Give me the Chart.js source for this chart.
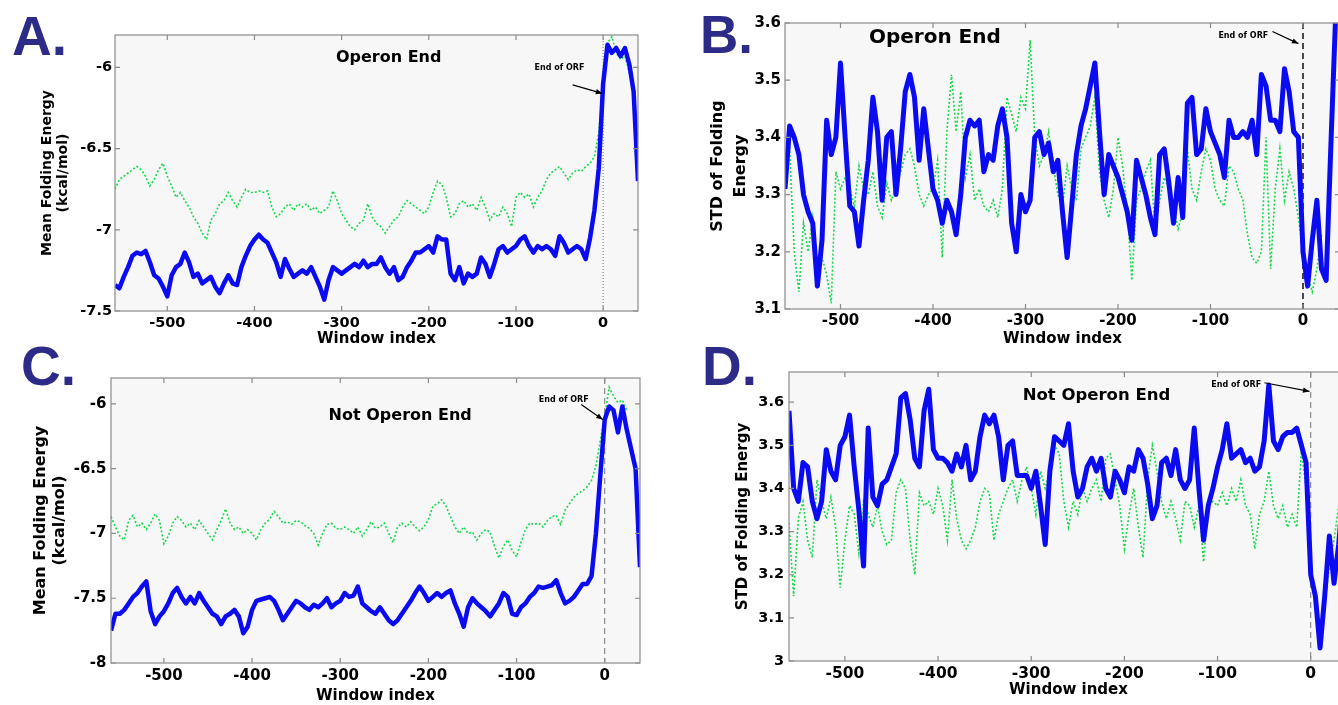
<!DOCTYPE html>
<html>
<head>
<meta charset="utf-8">
<script src="https://cdn.jsdelivr.net/npm/chart.js@4.4.1/dist/chart.umd.min.js"></script>
<style>
  html, body { margin: 0; padding: 0; width: 1338px; height: 705px; overflow: hidden; background: #fff; }
  canvas { position: absolute; }
</style>
</head>
<body>
<canvas id="chartA" width="660" height="350" style="left:0px;top:0px"></canvas>
<canvas id="chartB" width="677" height="350" style="left:668px;top:0px"></canvas>
<canvas id="chartC" width="660" height="360" style="left:0px;top:345px"></canvas>
<canvas id="chartD" width="685" height="360" style="left:668px;top:345px"></canvas>
<script>
// window index (x) shared by all four panels
const windowIdx = [
  -560, -555, -550, -545, -540, -535, -530, -525, -520, -515,
  -510, -505, -500, -495, -490, -485, -480, -475, -470, -465,
  -460, -455, -450, -445, -440, -435, -430, -425, -420, -415,
  -410, -405, -400, -395, -390, -385, -380, -375, -370, -365,
  -360, -355, -350, -345, -340, -335, -330, -325, -320, -315,
  -310, -305, -300, -295, -290, -285, -280, -275, -270, -265,
  -260, -255, -250, -245, -240, -235, -230, -225, -220, -215,
  -210, -205, -200, -195, -190, -185, -180, -175, -170, -165,
  -160, -155, -150, -145, -140, -135, -130, -125, -120, -115,
  -110, -105, -100, -95, -90, -85, -80, -75, -70, -65,
  -60, -55, -50, -45, -40, -35, -30, -25, -20, -15,
  -10, -5, 0, 5, 10, 15, 20, 25, 30, 35,
  40
];
const xTickVals = [-500, -400, -300, -200, -100, 0];

// A: mean folding energy, operon end
const meanOperonReal = [
  -7.34, -7.36, -7.29, -7.23, -7.16, -7.14, -7.15, -7.13, -7.20, -7.28,
  -7.30, -7.35, -7.41, -7.28, -7.23, -7.21, -7.14, -7.20, -7.29, -7.27,
  -7.33, -7.31, -7.29, -7.35, -7.39, -7.33, -7.28, -7.33, -7.34, -7.23,
  -7.16, -7.10, -7.06, -7.03, -7.06, -7.08, -7.14, -7.20, -7.29, -7.18,
  -7.24, -7.29, -7.27, -7.25, -7.27, -7.23, -7.29, -7.35, -7.43, -7.31,
  -7.23, -7.25, -7.27, -7.25, -7.23, -7.21, -7.23, -7.19, -7.23, -7.21,
  -7.21, -7.17, -7.23, -7.27, -7.23, -7.31, -7.29, -7.23, -7.19, -7.14,
  -7.14, -7.12, -7.10, -7.14, -7.04, -7.06, -7.06, -7.27, -7.31, -7.23,
  -7.33, -7.27, -7.29, -7.27, -7.17, -7.21, -7.29, -7.21, -7.12, -7.10,
  -7.14, -7.12, -7.10, -7.06, -7.04, -7.10, -7.14, -7.10, -7.12, -7.10,
  -7.12, -7.16, -7.04, -7.08, -7.14, -7.12, -7.10, -7.12, -7.18, -7.05,
  -6.88, -6.62, -6.10, -5.86, -5.91, -5.88, -5.93, -5.88, -5.98, -6.15,
  -6.70
];
const meanOperonShuffled = [
  -6.75, -6.69, -6.67, -6.65, -6.63, -6.61, -6.63, -6.67, -6.73, -6.69,
  -6.63, -6.59, -6.67, -6.73, -6.80, -6.77, -6.82, -6.86, -6.92, -6.96,
  -7.02, -7.06, -6.94, -6.90, -6.84, -6.82, -6.77, -6.82, -6.86, -6.80,
  -6.75, -6.77, -6.77, -6.76, -6.77, -6.76, -6.86, -6.92, -6.90, -6.86,
  -6.84, -6.88, -6.84, -6.86, -6.84, -6.88, -6.86, -6.90, -6.88, -6.86,
  -6.76, -6.82, -6.90, -6.94, -6.98, -7.00, -6.96, -6.94, -6.84, -6.92,
  -6.96, -6.98, -7.02, -6.98, -6.94, -6.92, -6.86, -6.82, -6.84, -6.86,
  -6.88, -6.90, -6.86, -6.77, -6.70, -6.72, -6.80, -6.92, -6.90, -6.84,
  -6.82, -6.86, -6.84, -6.88, -6.80, -6.86, -6.94, -6.90, -6.92, -6.86,
  -6.90, -6.98, -6.80, -6.77, -6.80, -6.78, -6.86, -6.80, -6.76, -6.69,
  -6.65, -6.63, -6.61, -6.65, -6.69, -6.65, -6.63, -6.64, -6.61, -6.59,
  -6.55, -6.40, -6.10, -5.85, -5.81, -5.91, -5.95, -5.93, -6.03, -6.08,
  null
];

// B: STD of folding energy, operon end
const stdOperonReal = [
  3.31, 3.42, 3.40, 3.37, 3.30, 3.27, 3.25, 3.14, 3.22, 3.43,
  3.37, 3.40, 3.53, 3.40, 3.28, 3.27, 3.21, 3.29, 3.36, 3.47,
  3.41, 3.29, 3.40, 3.41, 3.30, 3.38, 3.48, 3.51, 3.47, 3.36,
  3.45, 3.38, 3.31, 3.29, 3.25, 3.29, 3.27, 3.23, 3.30, 3.40,
  3.43, 3.42, 3.43, 3.34, 3.37, 3.36, 3.42, 3.45, 3.40, 3.25,
  3.20, 3.30, 3.27, 3.29, 3.40, 3.41, 3.37, 3.39, 3.34, 3.36,
  3.27, 3.19, 3.28, 3.37, 3.42, 3.45, 3.49, 3.53, 3.41, 3.30,
  3.37, 3.35, 3.33, 3.30, 3.27, 3.22, 3.36, 3.33, 3.30, 3.26,
  3.23, 3.37, 3.38, 3.32, 3.25, 3.33, 3.26, 3.46, 3.47, 3.37,
  3.38, 3.45, 3.41, 3.39, 3.37, 3.33, 3.43, 3.40, 3.40, 3.41,
  3.40, 3.43, 3.37, 3.51, 3.49, 3.43, 3.43, 3.41, 3.52, 3.48,
  3.41, 3.40, 3.20, 3.14, 3.22, 3.29, 3.17, 3.15, 3.38, 3.60,
  3.70
];
const stdOperonShuffled = [
  3.35, 3.38, 3.20, 3.13, 3.25, 3.20, 3.26, 3.17, 3.19, 3.16,
  3.11, 3.34, 3.31, 3.33, 3.31, 3.28, 3.35, 3.31, 3.30, 3.34,
  3.28, 3.26, 3.32, 3.29, 3.31, 3.34, 3.37, 3.38, 3.35, 3.30,
  3.28, 3.30, 3.31, 3.36, 3.19, 3.41, 3.51, 3.41, 3.48, 3.33,
  3.37, 3.29, 3.31, 3.28, 3.27, 3.29, 3.26, 3.31, 3.47, 3.44,
  3.41, 3.47, 3.45, 3.57, 3.40, 3.35, 3.37, 3.41, 3.35, 3.30,
  3.28, 3.35, 3.31, 3.29, 3.38, 3.40, 3.42, 3.47, 3.34, 3.29,
  3.26, 3.31, 3.40, 3.35, 3.27, 3.15, 3.29, 3.31, 3.34, 3.36,
  3.24, 3.29, 3.33, 3.31, 3.28, 3.24, 3.27, 3.38, 3.31, 3.29,
  3.34, 3.38, 3.36, 3.31, 3.29, 3.28, 3.35, 3.34, 3.31, 3.29,
  3.23, 3.19, 3.18, 3.20, 3.40, 3.17, 3.31, 3.38, 3.29, 3.34,
  3.31, 3.26, 3.20, 3.16, 3.13, 3.17, 3.23, null, null, null,
  null
];

// C: mean folding energy, not operon end
const meanNotOperonReal = [
  -7.75, -7.62, -7.62, -7.59, -7.54, -7.49, -7.46, -7.41, -7.37, -7.60,
  -7.70, -7.64, -7.60, -7.54, -7.46, -7.42, -7.49, -7.54, -7.49, -7.54,
  -7.46, -7.52, -7.57, -7.62, -7.64, -7.70, -7.64, -7.62, -7.59, -7.64,
  -7.77, -7.72, -7.59, -7.52, -7.51, -7.50, -7.49, -7.52, -7.59, -7.67,
  -7.62, -7.57, -7.52, -7.54, -7.57, -7.59, -7.55, -7.57, -7.54, -7.50,
  -7.57, -7.54, -7.52, -7.46, -7.49, -7.48, -7.41, -7.54, -7.57, -7.60,
  -7.62, -7.57, -7.62, -7.67, -7.70, -7.67, -7.62, -7.57, -7.52, -7.46,
  -7.41, -7.46, -7.52, -7.49, -7.46, -7.49, -7.46, -7.44, -7.54, -7.62,
  -7.72, -7.57, -7.50, -7.54, -7.57, -7.60, -7.64, -7.59, -7.54, -7.46,
  -7.49, -7.62, -7.63, -7.57, -7.54, -7.49, -7.46, -7.41, -7.42, -7.41,
  -7.40, -7.36, -7.46, -7.54, -7.52, -7.49, -7.44, -7.39, -7.39, -7.33,
  -7.00, -6.55, -6.12, -6.02, -6.05, -6.22, -6.02, -6.20, -6.35, -6.50,
  -7.26
];
const meanNotOperonShuffled = [
  -6.87, -6.95, -7.02, -7.05, -6.90, -6.86, -6.95, -6.92, -6.97, -6.92,
  -6.85, -6.90, -7.08, -7.02, -6.92, -6.87, -6.90, -6.95, -6.92, -6.97,
  -6.90, -6.95, -7.00, -7.05, -6.97, -6.90, -6.81, -6.92, -6.97, -6.95,
  -7.00, -6.97, -7.00, -7.05, -6.97, -6.92, -6.89, -6.83, -6.87, -6.92,
  -6.91, -6.93, -6.90, -6.91, -6.94, -6.96, -7.00, -7.09, -7.00, -6.93,
  -6.92, -6.96, -6.97, -6.95, -6.97, -7.00, -6.95, -7.02, -6.97, -6.91,
  -6.96, -6.95, -6.92, -7.00, -7.07, -6.95, -6.92, -6.95, -6.91, -6.95,
  -6.98, -6.95, -6.89, -6.79, -6.77, -6.74, -6.79, -6.87, -6.95, -7.00,
  -6.95, -7.00, -6.99, -7.05, -7.00, -6.97, -6.99, -7.10, -7.19, -7.10,
  -7.05, -7.13, -7.18, -7.07, -6.97, -6.92, -6.93, -6.92, -6.95, -6.90,
  -6.87, -6.86, -6.93, -6.82, -6.77, -6.72, -6.69, -6.67, -6.64, -6.59,
  -6.48, -6.28, -6.10, -5.87, -5.94, -5.99, -5.97, -6.05, null, null,
  null
];

// D: STD of folding energy, not operon end
const stdNotOperonReal = [
  3.58, 3.40, 3.37, 3.46, 3.45, 3.37, 3.33, 3.37, 3.49, 3.44,
  3.42, 3.50, 3.52, 3.57, 3.45, 3.35, 3.22, 3.54, 3.38, 3.36,
  3.41, 3.42, 3.45, 3.48, 3.61, 3.62, 3.56, 3.47, 3.45, 3.58,
  3.63, 3.49, 3.47, 3.47, 3.46, 3.44, 3.48, 3.45, 3.50, 3.42,
  3.44, 3.52, 3.57, 3.55, 3.57, 3.52, 3.42, 3.50, 3.51, 3.43,
  3.43, 3.43, 3.40, 3.44, 3.36, 3.27, 3.44, 3.52, 3.51, 3.50,
  3.55, 3.44, 3.38, 3.40, 3.45, 3.47, 3.44, 3.47, 3.40, 3.38,
  3.44, 3.42, 3.39, 3.45, 3.44, 3.49, 3.47, 3.41, 3.33, 3.36,
  3.46, 3.47, 3.43, 3.49, 3.42, 3.40, 3.42, 3.54, 3.40, 3.28,
  3.36, 3.40, 3.45, 3.49, 3.55, 3.47, 3.48, 3.49, 3.46, 3.47,
  3.44, 3.45, 3.51, 3.64, 3.51, 3.49, 3.52, 3.53, 3.53, 3.54,
  3.50, 3.46, 3.20, 3.15, 3.03, 3.15, 3.29, 3.18, 3.27, 3.40,
  3.45
];
const stdNotOperonShuffled = [
  3.32, 3.15, 3.33, 3.37, 3.28, 3.24, 3.42, 3.37, 3.33, 3.38,
  3.31, 3.17, 3.28, 3.36, 3.34, 3.25, 3.37, 3.34, 3.31, 3.36,
  3.30, 3.27, 3.28, 3.39, 3.42, 3.40, 3.28, 3.20, 3.39, 3.36,
  3.37, 3.34, 3.40, 3.36, 3.28, 3.42, 3.33, 3.28, 3.26, 3.28,
  3.31, 3.37, 3.40, 3.39, 3.28, 3.34, 3.37, 3.40, 3.42, 3.37,
  3.42, 3.45, 3.40, 3.34, 3.44, 3.40, 3.44, 3.50, 3.48, 3.37,
  3.31, 3.37, 3.34, 3.40, 3.37, 3.40, 3.42, 3.37, 3.47, 3.48,
  3.42, 3.36, 3.26, 3.34, 3.40, 3.31, 3.24, 3.42, 3.50, 3.44,
  3.37, 3.33, 3.37, 3.33, 3.28, 3.37, 3.36, 3.31, 3.36, 3.23,
  3.36, 3.37, 3.36, 3.39, 3.36, 3.40, 3.37, 3.42, 3.36, 3.34,
  3.26, 3.34, 3.37, 3.44, 3.36, 3.33, 3.36, 3.31, 3.34, 3.31,
  3.49, 3.40, 3.20, 3.14, 3.08, 3.13, 3.22, 3.28, 3.36, 3.42,
  null
];

const yTicksMeanA = [-7.5, -7, -6.5, -6];
const yTicksStdB = [3.1, 3.2, 3.3, 3.4, 3.5, 3.6];
const yTicksMeanC = [-8, -7.5, -7, -6.5, -6];
const yTicksStdD = [3, 3.1, 3.2, 3.3, 3.4, 3.5, 3.6];

Chart.defaults.font.family = "'DejaVu Sans', sans-serif";
Chart.defaults.font.weight = 'bold';
Chart.defaults.color = '#000';

const BLUE = '#0b0bf2';
const GREEN = '#17d94a';

// plot box: grey background, frame, inward ticks, marker at 0, labels and arrow
const framePlugin = {
  id: 'frame',
  beforeDatasetsDraw(chart, args, o) {
    const { ctx, chartArea: a, scales: { x } } = chart;
    ctx.save();
    ctx.fillStyle = '#f7f7f7';
    ctx.fillRect(a.left, a.top, a.right - a.left, a.bottom - a.top);
    const x0 = x.getPixelForValue(0);
    ctx.strokeStyle = o.vColor;
    ctx.lineWidth = o.vWidth;
    ctx.setLineDash(o.vDash);
    ctx.beginPath();
    ctx.moveTo(x0, a.top);
    ctx.lineTo(x0, a.bottom);
    ctx.stroke();
    ctx.restore();
  },
  afterDraw(chart, args, o) {
    const { ctx, chartArea: a, scales: { x, y } } = chart;
    ctx.save();
    ctx.strokeStyle = '#8a8a8a';
    ctx.lineWidth = 1.2;
    ctx.strokeRect(a.left, a.top, a.right - a.left, a.bottom - a.top);
    ctx.beginPath();
    x.ticks.forEach(t => {
      const px = x.getPixelForValue(t.value);
      ctx.moveTo(px, a.bottom); ctx.lineTo(px, a.bottom - 5);
      ctx.moveTo(px, a.top); ctx.lineTo(px, a.top + 5);
    });
    y.ticks.forEach(t => {
      const py = y.getPixelForValue(t.value);
      ctx.moveTo(a.left, py); ctx.lineTo(a.left + 5, py);
      ctx.moveTo(a.right, py); ctx.lineTo(a.right - 5, py);
    });
    ctx.stroke();

    ctx.fillStyle = '#000';
    ctx.textAlign = 'center';
    ctx.textBaseline = 'middle';
    ctx.font = 'bold ' + o.titleSize + "px 'DejaVu Sans'";
    ctx.fillText(o.title, x.getPixelForValue(o.titleAt[0]), y.getPixelForValue(o.titleAt[1]));

    ctx.font = "bold 8px 'DejaVu Sans'";
    ctx.fillText('End of ORF', x.getPixelForValue(o.noteAt[0]), y.getPixelForValue(o.noteAt[1]));
    const tx = x.getPixelForValue(o.arrowFrom[0]), ty = y.getPixelForValue(o.arrowFrom[1]);
    const hx = x.getPixelForValue(o.arrowTo[0]), hy = y.getPixelForValue(o.arrowTo[1]);
    const ang = Math.atan2(hy - ty, hx - tx);
    ctx.strokeStyle = '#000';
    ctx.lineWidth = 1.2;
    ctx.beginPath(); ctx.moveTo(tx, ty); ctx.lineTo(hx, hy); ctx.stroke();
    ctx.beginPath();
    ctx.moveTo(hx, hy);
    ctx.lineTo(hx - 7 * Math.cos(ang - 0.4), hy - 7 * Math.sin(ang - 0.4));
    ctx.lineTo(hx - 7 * Math.cos(ang + 0.4), hy - 7 * Math.sin(ang + 0.4));
    ctx.closePath();
    ctx.fill();

    ctx.fillStyle = '#2c2b87';
    ctx.textAlign = 'left';
    ctx.textBaseline = 'alphabetic';
    ctx.font = 'bold ' + o.letterSize + "px 'Liberation Sans'";
    ctx.fillText(o.letter, o.letterPos[0], o.letterPos[1]);
    ctx.restore();
  }
};

function makePanel(id, p) {
  new Chart(document.getElementById(id), {
    type: 'line',
    data: {
      datasets: [
        {
          data: windowIdx.map((w, i) => ({ x: w, y: p.real[i] })),
          borderColor: BLUE,
          borderWidth: p.blueWidth,
          borderJoinStyle: 'round',
          pointRadius: 0,
          tension: 0
        },
        {
          data: windowIdx.map((w, i) => ({ x: w, y: p.shuffled[i] })),
          borderColor: GREEN,
          borderWidth: 1.6,
          borderDash: [2, 2],
          pointRadius: 0,
          tension: 0
        }
      ]
    },
    options: {
      responsive: false,
      animation: false,
      layout: { padding: { top: p.padTop, right: p.padRight, left: 0, bottom: 0 } },
      plugins: { legend: { display: false }, tooltip: { enabled: false }, frame: p.frame },
      scales: {
        x: {
          type: 'linear',
          min: -560,
          max: 40,
          grid: { display: false, drawTicks: false },
          border: { display: false },
          afterBuildTicks: s => { s.ticks = xTickVals.map(v => ({ value: v })); },
          afterFit: s => { s.height = p.xAxisH; },
          ticks: { font: { size: p.xTickSize }, padding: p.xTickPad, autoSkip: false, maxRotation: 0, callback: v => String(v) },
          title: { display: true, text: 'Window index', color: '#000', font: { size: 15 }, padding: { top: 0, bottom: p.xTitlePad } }
        },
        y: {
          min: p.yMin,
          max: p.yMax,
          grid: { display: false, drawTicks: false },
          border: { display: false },
          afterBuildTicks: s => { s.ticks = p.yTicks.map(v => ({ value: v })); },
          afterFit: s => { s.width = p.yAxisW; },
          ticks: { font: { size: p.yTickSize }, padding: p.yTickPad, autoSkip: false, callback: v => String(v) },
          title: { display: true, text: p.yTitle, color: '#000', font: { size: p.yTitleSize, lineHeight: p.yTitleLH }, padding: { top: p.yTitlePad, bottom: 0 } }
        }
      }
    },
    plugins: [framePlugin]
  });
}

makePanel('chartA', {
  real: meanOperonReal, shuffled: meanOperonShuffled, blueWidth: 4.5,
  yMin: -7.5, yMax: -5.8, yTicks: yTicksMeanA,
  padTop: 35, padRight: 22, xAxisH: 39, yAxisW: 115,
  xTickSize: 14.5, xTickPad: 4, xTitlePad: 2,
  yTickSize: 14.5, yTickPad: 3,
  yTitle: ['Mean Folding Energy', '(kcal/mol)'], yTitleSize: 14, yTitleLH: 1.2, yTitlePad: 38.6,
  frame: {
    letter: 'A.', letterSize: 55, letterPos: [12, 55],
    title: 'Operon End', titleSize: 16, titleAt: [-246, -5.94],
    noteAt: [-50, -6.0], arrowFrom: [-35, -6.107], arrowTo: [-1, -6.16],
    vColor: '#777', vWidth: 1, vDash: [1, 2]
  }
});

makePanel('chartB', {
  real: stdOperonReal, shuffled: stdOperonShuffled, blueWidth: 5,
  yMin: 3.1, yMax: 3.6, yTicks: yTicksStdB,
  padTop: 23, padRight: 5, xAxisH: 41, yAxisW: 117,
  xTickSize: 15, xTickPad: 3, xTitlePad: 2,
  yTickSize: 15, yTickPad: 4,
  yTitle: ['STD of Folding', 'Energy'], yTitleSize: 16, yTitleLH: 1.44, yTitlePad: 37.9,
  frame: {
    letter: 'B.', letterSize: 53, letterPos: [32, 53],
    title: 'Operon End', titleSize: 20, titleAt: [-398, 3.574],
    noteAt: [-64.5, 3.578], arrowFrom: [-33, 3.585], arrowTo: [-5, 3.564],
    vColor: '#111', vWidth: 1.5, vDash: [6, 4]
  }
});

makePanel('chartC', {
  real: meanNotOperonReal, shuffled: meanNotOperonShuffled, blueWidth: 4.5,
  yMin: -8, yMax: -5.8, yTicks: yTicksMeanC,
  padTop: 33, padRight: 20, xAxisH: 42, yAxisW: 111,
  xTickSize: 15, xTickPad: 4.5, xTitlePad: 0,
  yTickSize: 15, yTickPad: 4.5,
  yTitle: ['Mean Folding Energy', '(kcal/mol)'], yTitleSize: 16, yTitleLH: 1.2, yTitlePad: 31.2,
  frame: {
    letter: 'C.', letterSize: 55, letterPos: [21, 40],
    title: 'Not Operon End', titleSize: 16, titleAt: [-232, -6.09],
    noteAt: [-46.5, -5.97], arrowFrom: [-26.7, -6.005], arrowTo: [-2.3, -6.12],
    vColor: '#777', vWidth: 1, vDash: [6, 4]
  }
});

makePanel('chartD', {
  real: stdNotOperonReal, shuffled: stdNotOperonShuffled, blueWidth: 5,
  yMin: 3.0, yMax: 3.67, yTicks: yTicksStdD,
  padTop: 27, padRight: 5, xAxisH: 44, yAxisW: 121,
  xTickSize: 15.5, xTickPad: 3.4, xTitlePad: 6,
  yTickSize: 14.5, yTickPad: 5,
  yTitle: 'STD of Folding Energy', yTitleSize: 15, yTitleLH: 1.2, yTitlePad: 66,
  frame: {
    letter: 'D.', letterSize: 55, letterPos: [34, 40],
    title: 'Not Operon End', titleSize: 16.5, titleAt: [-230, 3.615],
    noteAt: [-80, 3.64], arrowFrom: [-49.7, 3.645], arrowTo: [-1.4, 3.625],
    vColor: '#777', vWidth: 1, vDash: [6, 4]
  }
});
</script>
</body>
</html>
